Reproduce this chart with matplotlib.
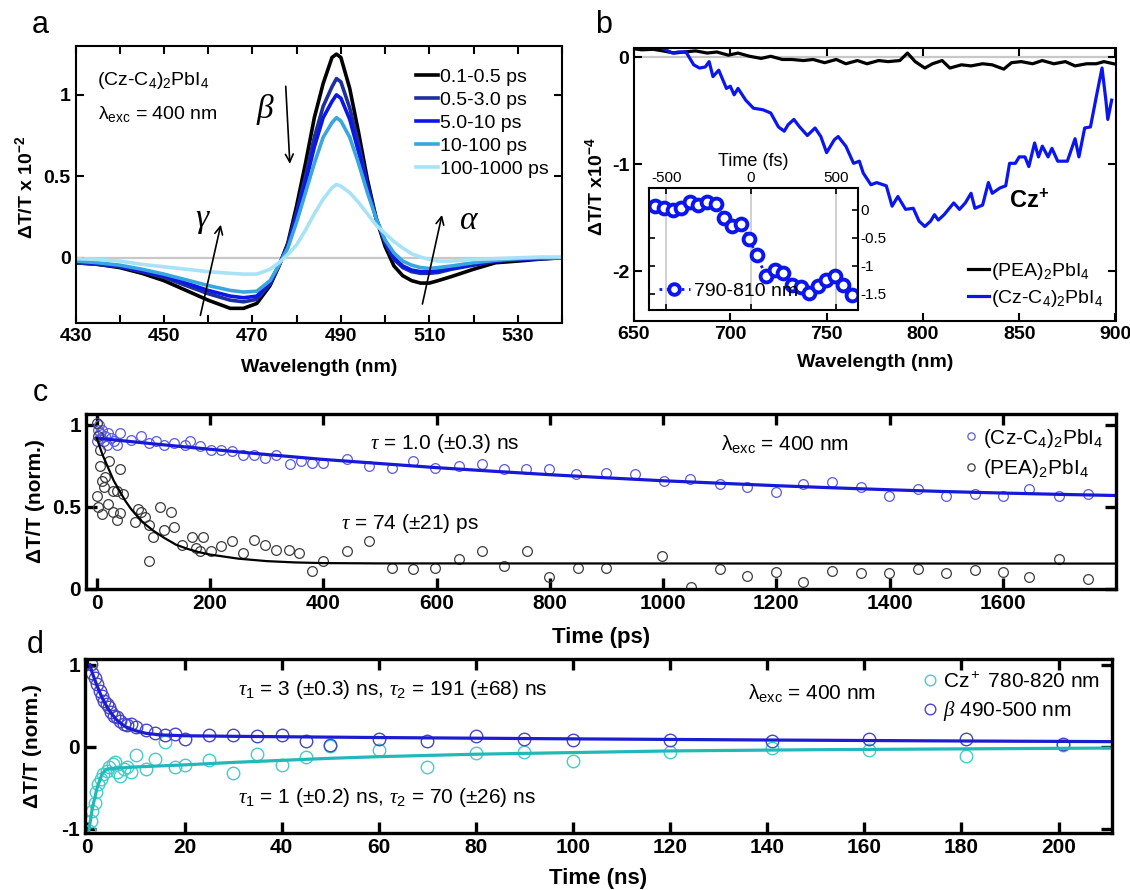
import matplotlib
matplotlib.use('Agg')
import matplotlib.pyplot as plt
from matplotlib import font_manager

# fonts: Arial-like for a/b, narrow for c/d if there is one
names = {f.name for f in font_manager.fontManager.ttflist}
SANS = 'Liberation Sans'
NARROW = 'Liberation Sans Narrow' if 'Liberation Sans Narrow' in names else 'Liberation Sans'

plt.rcParams['font.family'] = [SANS, 'DejaVu Sans']
plt.rcParams['mathtext.fontset'] = 'custom'
plt.rcParams['mathtext.it'] = 'Liberation Serif:italic'
plt.rcParams['mathtext.default'] = 'regular'
plt.rcParams['axes.unicode_minus'] = False
plt.rcParams['xtick.direction'] = 'in'
plt.rcParams['ytick.direction'] = 'in'

# ---------------- data: panel a (spectra) ----------------
wl_a = [430, 435, 440, 445, 450, 455, 460, 465, 468, 471, 474, 476, 478, 480, 482, 484, 486, 488, 489,
        490, 492, 494, 496, 498, 500, 502, 504, 506, 508, 510, 512, 515, 520, 525, 530, 535, 540]
dt_01 = [-0.03, -0.04, -0.06, -0.095, -0.14, -0.2, -0.26, -0.31, -0.31, -0.28, -0.17, -0.05, 0.09, 0.32,
         0.58, 0.86, 1.07, 1.23, 1.25, 1.23, 1.04, 0.77, 0.48, 0.24, 0.07, -0.05, -0.11, -0.14, -0.155,
         -0.155, -0.14, -0.115, -0.07, -0.03, -0.02, -0.008, 0.0]
dt_05 = [-0.03, -0.04, -0.055, -0.085, -0.12, -0.17, -0.22, -0.26, -0.27, -0.255, -0.16, -0.05, 0.08, 0.28,
         0.5, 0.74, 0.93, 1.05, 1.1, 1.08, 0.92, 0.7, 0.45, 0.24, 0.09, -0.01, -0.06, -0.085, -0.095,
         -0.095, -0.09, -0.07, -0.045, -0.02, -0.01, -0.005, 0.0]
dt_5 = [-0.025, -0.035, -0.05, -0.08, -0.11, -0.155, -0.2, -0.235, -0.245, -0.235, -0.15, -0.045, 0.07, 0.26,
        0.46, 0.68, 0.86, 0.96, 1.0, 0.98, 0.85, 0.65, 0.43, 0.24, 0.1, 0.0, -0.05, -0.075, -0.085,
        -0.085, -0.08, -0.065, -0.04, -0.02, -0.01, -0.005, 0.0]
dt_10 = [-0.02, -0.03, -0.045, -0.07, -0.1, -0.135, -0.17, -0.2, -0.21, -0.205, -0.14, -0.045, 0.06, 0.22,
         0.4, 0.58, 0.74, 0.83, 0.86, 0.84, 0.74, 0.58, 0.4, 0.24, 0.11, 0.03, -0.02, -0.045, -0.06,
         -0.065, -0.06, -0.05, -0.03, -0.015, -0.005, 0.0, 0.0]
dt_100 = [-0.005, -0.01, -0.02, -0.04, -0.055, -0.07, -0.085, -0.095, -0.1, -0.1, -0.07, -0.03, 0.02, 0.08,
          0.17, 0.27, 0.36, 0.43, 0.45, 0.44, 0.4, 0.34, 0.27, 0.2, 0.15, 0.1, 0.06, 0.025, 0.005,
          -0.01, -0.02, -0.02, -0.01, -0.005, 0.0, 0.005, 0.005]
labels_a = ['0.1-0.5 ps', '0.5-3.0 ps', '5.0-10 ps', '10-100 ps', '100-1000 ps']
colors_a = ['#000000', '#1c2f9c', '#0b16e8', '#3aa6de', '#a8e2f6']

# ---------------- data: panel b ----------------
wl_cz = [657, 663, 670, 673, 677, 681, 684, 687, 689, 691, 694, 698, 700, 702, 704, 708, 712, 717, 721,
         725, 728, 730, 733, 736, 740, 744, 747, 750, 754, 756, 760, 764, 767, 769, 773, 776, 781, 784,
         787, 791, 795, 798, 801, 804, 806, 808, 811, 816, 819, 822, 825, 827, 831, 834, 836, 840, 843,
         845, 848, 850, 853, 855, 858, 860, 862, 865, 867, 870, 875, 879, 881, 884, 887, 890, 893, 895,
         896, 898]
dt_cz = [0.1, 0.1, 0.04, 0.05, 0.05, -0.07, -0.1, -0.09, -0.04, -0.18, -0.12, -0.29, -0.27, -0.35, -0.29,
         -0.4, -0.475, -0.49, -0.52, -0.65, -0.69, -0.63, -0.58, -0.65, -0.73, -0.66, -0.74, -0.89, -0.77,
         -0.74, -0.83, -0.99, -0.97, -1.08, -1.19, -1.17, -1.2, -1.39, -1.3, -1.42, -1.41, -1.53, -1.58,
         -1.53, -1.47, -1.52, -1.47, -1.36, -1.42, -1.36, -1.27, -1.41, -1.38, -1.17, -1.27, -1.22, -1.2,
         -0.99, -0.99, -0.93, -0.93, -1.02, -0.8, -0.93, -0.83, -0.93, -0.85, -0.97, -0.97, -0.76, -0.93,
         -0.66, -0.65, -0.37, -0.1, -0.4, -0.58, -0.4]
wl_pea = [650, 654, 660, 665, 671, 676, 682, 688, 693, 699, 704, 710, 716, 721, 727, 732, 738, 743, 749,
          755, 760, 766, 771, 777, 782, 788, 792, 796, 801, 805, 810, 814, 820, 825, 831, 836, 842, 846,
          851, 857, 862, 868, 874, 879, 885, 890, 894, 899]
dt_pea = [0.08, 0.07, 0.075, 0.06, 0.04, 0.05, 0.06, 0.04, 0.05, 0.02, 0.04, 0.01, -0.01, 0.01, -0.02,
          -0.02, -0.03, -0.02, -0.05, -0.02, -0.06, -0.03, -0.06, -0.03, -0.04, -0.03, 0.04, -0.04, -0.1,
          -0.06, -0.03, -0.1, -0.07, -0.08, -0.06, -0.07, -0.11, -0.05, -0.04, -0.06, -0.03, -0.06, -0.04,
          -0.08, -0.06, -0.06, -0.04, -0.06]
# inset
t_fs = [-567, -512, -462, -413, -360, -311, -262, -207, -157, -114, -59, -12, 33, 87, 142, 191, 244,
        295, 344, 394, 443, 496, 545, 594]
dt_fs = [0.07, 0.04, -0.01, 0.04, 0.14, 0.09, 0.14, 0.1, -0.14, -0.29, -0.26, -0.52, -0.8, -1.18, -1.08,
         -1.12, -1.34, -1.38, -1.49, -1.36, -1.26, -1.19, -1.34, -1.53]

# ---------------- data: panel c ----------------
t_c_cz = [0, 2, 4, 6, 8, 10, 12, 15, 18, 20, 25, 30, 35, 41, 60, 79, 92, 105, 118, 137, 156, 165, 182,
          201, 220, 239, 259, 278, 297, 316, 342, 361, 380, 399, 442, 480, 521, 559, 598, 640, 681, 719,
          758, 799, 847, 899, 950, 1001, 1048, 1100, 1148, 1199, 1248, 1299, 1350, 1399, 1450, 1500,
          1551, 1600, 1647, 1699, 1750]
y_c_cz = [0.9, 0.97, 1.0, 0.95, 0.92, 0.97, 0.9, 0.93, 0.88, 0.95, 0.92, 0.9, 0.88, 0.95, 0.91, 0.93,
          0.89, 0.9, 0.88, 0.89, 0.88, 0.9, 0.87, 0.85, 0.85, 0.84, 0.82, 0.82, 0.8, 0.82, 0.76, 0.78,
          0.77, 0.77, 0.79, 0.75, 0.74, 0.78, 0.74, 0.75, 0.76, 0.73, 0.73, 0.73, 0.7, 0.71, 0.7, 0.66,
          0.67, 0.64, 0.62, 0.59, 0.64, 0.65, 0.62, 0.57, 0.61, 0.57, 0.58, 0.57, 0.61, 0.57, 0.58]
t_c_pea = [0, 3, 5, 6, 9, 12, 0, 3, 9, 15, 22, 28, 35, 41, 19, 28, 41, 47, 35, 67, 73, 79, 86, 92, 92,
           99, 111, 118, 131, 137, 150, 169, 175, 188, 182, 201, 220, 239, 259, 278, 297, 316, 339, 358,
           380, 399, 442, 480, 521, 559, 598, 640, 681, 719, 760, 799, 850, 899, 998, 1050, 1100, 1148,
           1199, 1248, 1299, 1350, 1399, 1450, 1500, 1551, 1600, 1647, 1699, 1750]
y_c_pea = [1.01, 0.93, 0.85, 0.75, 0.66, 0.62, 0.57, 0.5, 0.46, 0.68, 0.78, 0.6, 0.6, 0.73, 0.52, 0.47,
           0.465, 0.58, 0.42, 0.41, 0.49, 0.47, 0.44, 0.39, 0.17, 0.32, 0.5, 0.36, 0.47, 0.38, 0.27, 0.32,
           0.25, 0.32, 0.23, 0.23, 0.26, 0.29, 0.22, 0.3, 0.27, 0.24, 0.24, 0.22, 0.11, 0.17, 0.23, 0.29,
           0.13, 0.12, 0.13, 0.18, 0.23, 0.14, 0.23, 0.075, 0.13, 0.13, 0.2, 0.015, 0.12, 0.08, 0.105,
           0.04, 0.11, 0.1, 0.095, 0.12, 0.095, 0.115, 0.105, 0.075, 0.18, 0.06]
fit_t_cz = [0, 100, 200, 300, 400, 500, 600, 700, 800, 900, 1000, 1100, 1200, 1300, 1400, 1500, 1600,
            1700, 1800]
fit_y_cz = [0.92, 0.885, 0.852, 0.82, 0.79, 0.765, 0.74, 0.718, 0.697, 0.678, 0.66, 0.645, 0.63, 0.617,
            0.605, 0.594, 0.585, 0.577, 0.57]
fit_t_pea = [0, 10, 20, 30, 40, 50, 60, 70, 80, 100, 120, 140, 160, 180, 200, 250, 300, 350, 400, 500,
             1800]
fit_y_pea = [0.92, 0.82, 0.74, 0.66, 0.6, 0.54, 0.49, 0.45, 0.41, 0.355, 0.31, 0.27, 0.245, 0.225, 0.21,
             0.185, 0.17, 0.162, 0.158, 0.156, 0.155]

# ---------------- data: panel d ----------------
t_d_beta = [0.75, 1.0, 1.5, 2.0, 2.5, 3.0, 3.4, 4.0, 4.5, 4.9, 5.5, 6.0, 6.7, 7.5, 8.2, 9, 10, 12, 14,
            16, 18, 20, 25, 30, 35, 40, 45, 50, 60, 70, 80, 90, 100, 120, 141, 161, 181, 201]
y_d_beta = [1.01, 0.9, 0.84, 0.76, 0.68, 0.62, 0.56, 0.52, 0.48, 0.42, 0.38, 0.36, 0.32, 0.28, 0.26,
            0.28, 0.24, 0.21, 0.17, 0.15, 0.16, 0.09, 0.14, 0.14, 0.13, 0.14, 0.07, 0.02, 0.09, 0.07,
            0.13, 0.09, 0.08, 0.08, 0.07, 0.09, 0.1, 0.04]
t_d_cz = [0.3, 0.75, 1.0, 1.5, 1.8, 2.2, 2.7, 3.3, 4.0, 4.5, 5.2, 5.7, 6.0, 6.7, 7.5, 8.2, 9, 10, 12, 14,
          16, 18, 20, 25, 30, 35, 40, 45, 50, 60, 70, 80, 90, 100, 120, 141, 161, 181, 201]
y_d_cz = [-1.02, -0.9, -0.78, -0.68, -0.55, -0.45, -0.39, -0.33, -0.29, -0.25, -0.21, -0.19, -0.31,
          -0.35, -0.27, -0.25, -0.31, -0.1, -0.27, -0.15, 0.06, -0.24, -0.22, -0.16, -0.32, -0.09, -0.22,
          -0.12, 0.01, -0.04, -0.24, -0.08, -0.06, -0.17, -0.06, -0.01, -0.04, -0.11, 0.02]
fit_t_beta = [0.5, 1, 2, 3, 4, 5, 6, 7, 8, 10, 12, 15, 20, 30, 40, 60, 80, 100, 120, 140, 160, 180, 200,
              211]
fit_y_beta = [1.0, 0.9, 0.74, 0.6, 0.49, 0.4, 0.33, 0.28, 0.24, 0.195, 0.165, 0.145, 0.135, 0.128, 0.123,
              0.113, 0.105, 0.097, 0.09, 0.083, 0.077, 0.071, 0.066, 0.063]
fit_t_cz_d = [0.2, 1, 2, 3, 4, 6, 10, 20, 30, 40, 50, 60, 80, 100, 120, 150, 180, 211]
fit_y_cz_d = [-1.06, -0.75, -0.5, -0.33, -0.27, -0.26, -0.245, -0.22, -0.19, -0.165, -0.14, -0.12,
              -0.09, -0.07, -0.05, -0.035, -0.025, -0.015]

W, H = 1130, 890
fig = plt.figure(figsize=(W / 100, H / 100), dpi=100)


def rect(l, t, r, b):
    return [l / W, 1 - b / H, (r - l) / W, (b - t) / H]


def style_ticks(ax, xt, xl, yt, yl, size, family, lw, length):
    ax.set_xticks(xt)
    ax.set_xticklabels(xl, fontsize=size, fontweight='bold', family=family)
    ax.set_yticks(yt)
    ax.set_yticklabels(yl, fontsize=size, fontweight='bold', family=family)
    ax.tick_params(which='both', top=True, right=True, width=lw, length=length)
    for s in ax.spines.values():
        s.set_linewidth(lw)


# ---------------- panel a ----------------
ax_a = fig.add_axes(rect(75.5, 46, 562, 323))
ax_a.axhline(0, color='#c8c8c8', lw=1.6, zorder=0)
for ys, col, lab in zip([dt_01, dt_05, dt_5, dt_10, dt_100], colors_a, labels_a):
    ax_a.plot(wl_a, ys, color=col, lw=2.6, label=lab)
ax_a.set_xlim(430, 540)
ax_a.set_ylim(-0.4, 1.3)
xt = list(range(430, 541, 10))
style_ticks(ax_a, xt, [str(v) if (v - 430) % 20 == 0 else '' for v in xt],
            [0, 0.5, 1], ['0', '0.5', '1'], 14, SANS, 1.5, 6)
ax_a.set_xlabel('Wavelength (nm)', fontsize=14, fontweight='bold')
ax_a.xaxis.set_label_coords(0.5, -0.13)
ax_a.set_ylabel('ΔT/T x 10$^{-2}$', fontsize=14, fontweight='bold')
ax_a.yaxis.set_label_coords(-0.081, 0.49)
ax_a.legend(loc='upper right', frameon=False, fontsize=14, handlelength=1.1, handletextpad=0.1,
            labelspacing=0.28, borderaxespad=0.3, bbox_to_anchor=(1.0, 0.97))
ax_a.text(434.8, 1.09, '(Cz-C$_4$)$_2$PbI$_4$', fontsize=14, va='center')
ax_a.text(435.2, 0.88, 'λ$_{exc}$ = 400 nm', fontsize=14, va='center')
arr = dict(arrowstyle='->', color='black', lw=1.2, mutation_scale=14)
ax_a.annotate('', xy=(478.5, 0.56), xytext=(477.5, 1.07), arrowprops=arr)
ax_a.annotate('', xy=(463, 0.22), xytext=(458.1, -0.37), arrowprops=arr)
ax_a.annotate('', xy=(513, 0.28), xytext=(508.3, -0.3), arrowprops=arr)
greek = dict(family='Liberation Serif', style='italic', fontsize=24, ha='center', va='center')
ax_a.text(472.8, 0.91, 'β', **greek)
ax_a.text(458.6, 0.24, 'γ', **greek)
ax_a.text(519, 0.23, 'α', **greek)

# ---------------- panel b ----------------
ax_b = fig.add_axes(rect(634, 47.7, 1115.5, 320.7))
ax_b.axhline(0, color='#c8c8c8', lw=1.6, zorder=0)
ax_b.plot(wl_pea, dt_pea, color='black', lw=2.3, label='(PEA)$_2$PbI$_4$')
ax_b.plot(wl_cz, dt_cz, color='#0b16ee', lw=2.3, label='(Cz-C$_4$)$_2$PbI$_4$')
ax_b.set_xlim(650, 900)
ax_b.set_ylim(-2.46, 0.09)
style_ticks(ax_b, [650, 700, 750, 800, 850, 900], ['650', '700', '750', '800', '850', '900'],
            [-2, -1, 0], ['-2', '-1', '0'], 14, SANS, 1.5, 6)
ax_b.set_xlabel('Wavelength (nm)', fontsize=14, fontweight='bold')
ax_b.xaxis.set_label_coords(0.5, -0.122)
ax_b.set_ylabel('ΔT/T x10$^{-4}$', fontsize=14, fontweight='bold')
ax_b.yaxis.set_label_coords(-0.058, 0.49)
ax_b.legend(loc='lower right', frameon=False, fontsize=14, handlelength=1.1, handletextpad=0.1,
            labelspacing=0.3, borderaxespad=0.2)
ax_b.text(855, -1.34, 'Cz$^{+}$', fontsize=17, fontweight='bold', ha='center', va='center')

# inset
ax_in = fig.add_axes(rect(649, 188, 858, 310))
for v in (-500, 0, 500):
    ax_in.axvline(v, color='#c8c8c8', lw=1.2, zorder=0)
ax_in.plot(t_fs, dt_fs, color='#0b16ee', ls=':', lw=2, marker='o', ms=8.5, mfc='white',
           mec='#0b16ee', mew=2.8, label='790-810 nm')
ax_in.set_xlim(-602, 632)
ax_in.set_ylim(-1.79, 0.39)
ax_in.xaxis.tick_top()
ax_in.xaxis.set_label_position('top')
ax_in.yaxis.tick_right()
ax_in.set_xticks([-500, 0, 500])
ax_in.set_xticklabels(['-500', '0', '500'], fontsize=11)
ax_in.set_yticks([0, -0.5, -1, -1.5])
ax_in.set_yticklabels(['0', '-0.5', '-1', '-1.5'], fontsize=11)
ax_in.tick_params(which='both', left=True, bottom=True, top=True, right=True, length=4, width=1.2,
                  pad=2)
ax_in.set_xlabel('Time (fs)', fontsize=13, labelpad=4)
for s in ax_in.spines.values():
    s.set_linewidth(1.5)
ax_in.legend(loc='lower left', frameon=False, fontsize=14, handlelength=1.6, handletextpad=0.2,
             borderaxespad=0.1, markerscale=0.9)

# ---------------- panel c ----------------
ax_c = fig.add_axes(rect(86, 414, 1116, 589))
ax_c.plot(t_c_cz, y_c_cz, 'o', ms=7, mfc='none', mec='#5b5be0', mew=0.9,
          label='(Cz-C$_4$)$_2$PbI$_4$')
ax_c.plot(t_c_pea, y_c_pea, 'o', ms=7, mfc='none', mec='#3c3c3c', mew=0.9, label='(PEA)$_2$PbI$_4$')
ax_c.plot(fit_t_cz, fit_y_cz, color='#1818d8', lw=2.3)
ax_c.plot(fit_t_pea, fit_y_pea, color='black', lw=1.6)
ax_c.set_xlim(-19, 1800)
ax_c.set_ylim(0, 1.067)
style_ticks(ax_c, list(range(0, 1601, 200)), [str(v) for v in range(0, 1601, 200)],
            [0, 0.5, 1], ['0', '0.5', '1'], 15, NARROW, 2.4, 8)
ax_c.set_xlabel('Time (ps)', fontsize=16, fontweight='bold', family=NARROW)
ax_c.xaxis.set_label_coords(0.5, -0.215)
ax_c.set_ylabel('ΔT/T (norm.)', fontsize=15, fontweight='bold')
ax_c.yaxis.set_label_coords(-0.040, 0.5)
ax_c.text(483, 0.89, r'$\mathit{\tau}$ = 1.0 (±0.3) ns', fontsize=15, family=NARROW, va='center')
ax_c.text(1103, 0.88, 'λ$_{exc}$ = 400 nm', fontsize=15, family=NARROW, va='center')
ax_c.text(431, 0.40, r'$\mathit{\tau}$ = 74 (±21) ps', fontsize=15, family=NARROW, va='center')
ax_c.legend(loc='upper right', frameon=False, handlelength=0.6, handletextpad=0.3,
            labelspacing=0.35, borderaxespad=0.2, markerscale=0.75, prop={'family': NARROW, 'size': 15})

# ---------------- panel d ----------------
ax_d = fig.add_axes(rect(85, 659, 1112, 833))
ax_d.plot(t_d_cz, y_d_cz, 'o', ms=9, mfc='none', mec='#45cccc', mew=1.0, label='Cz$^+$ 780-820 nm')
ax_d.plot(t_d_beta, y_d_beta, 'o', ms=9, mfc='none', mec='#4646c8', mew=1.0,
          label=r'$\mathit{\beta}$ 490-500 nm')
ax_d.plot(fit_t_cz_d, fit_y_cz_d, color='#22b8b8', lw=2.3)
ax_d.plot(fit_t_beta, fit_y_beta, color='#1c1cd0', lw=2.3)
ax_d.set_xlim(-0.5, 211)
ax_d.set_ylim(-1.05, 1.07)
style_ticks(ax_d, list(range(0, 201, 20)), [str(v) for v in range(0, 201, 20)],
            [-1, 0, 1], ['-1', '0', '1'], 15, NARROW, 2.4, 8)
ax_d.set_xlabel('Time (ns)', fontsize=16, fontweight='bold', family=NARROW)
ax_d.xaxis.set_label_coords(0.5, -0.2)
ax_d.set_ylabel('ΔT/T (norm.)', fontsize=15, fontweight='bold')
ax_d.yaxis.set_label_coords(-0.042, 0.5)
ax_d.text(31, 0.70, r'$\mathit{\tau}_1$ = 3 (±0.3) ns, $\mathit{\tau}_2$ = 191 (±68) ns', fontsize=15,
          family=NARROW, va='center')
ax_d.text(31, -0.62, r'$\mathit{\tau}_1$ = 1 (±0.2) ns, $\mathit{\tau}_2$ = 70 (±26) ns', fontsize=15,
          family=NARROW, va='center')
ax_d.text(136, 0.64, 'λ$_{exc}$ = 400 nm', fontsize=15, family=NARROW, va='center')
ax_d.legend(loc='upper right', frameon=False, handlelength=0.6, handletextpad=0.3, labelspacing=0.35,
            borderaxespad=0.2, markerscale=0.85, prop={'family': NARROW, 'size': 15})

# panel letters
fig.text(40 / W, 1 - 25 / H, 'a', fontsize=22, ha='center', va='center')
fig.text(604 / W, 1 - 25 / H, 'b', fontsize=22, ha='center', va='center')
fig.text(40 / W, 1 - 393 / H, 'c', fontsize=22, family=NARROW, ha='center', va='center')
fig.text(35 / W, 1 - 645 / H, 'd', fontsize=22, family=NARROW, ha='center', va='center')

fig.savefig('out.png', dpi=100)
